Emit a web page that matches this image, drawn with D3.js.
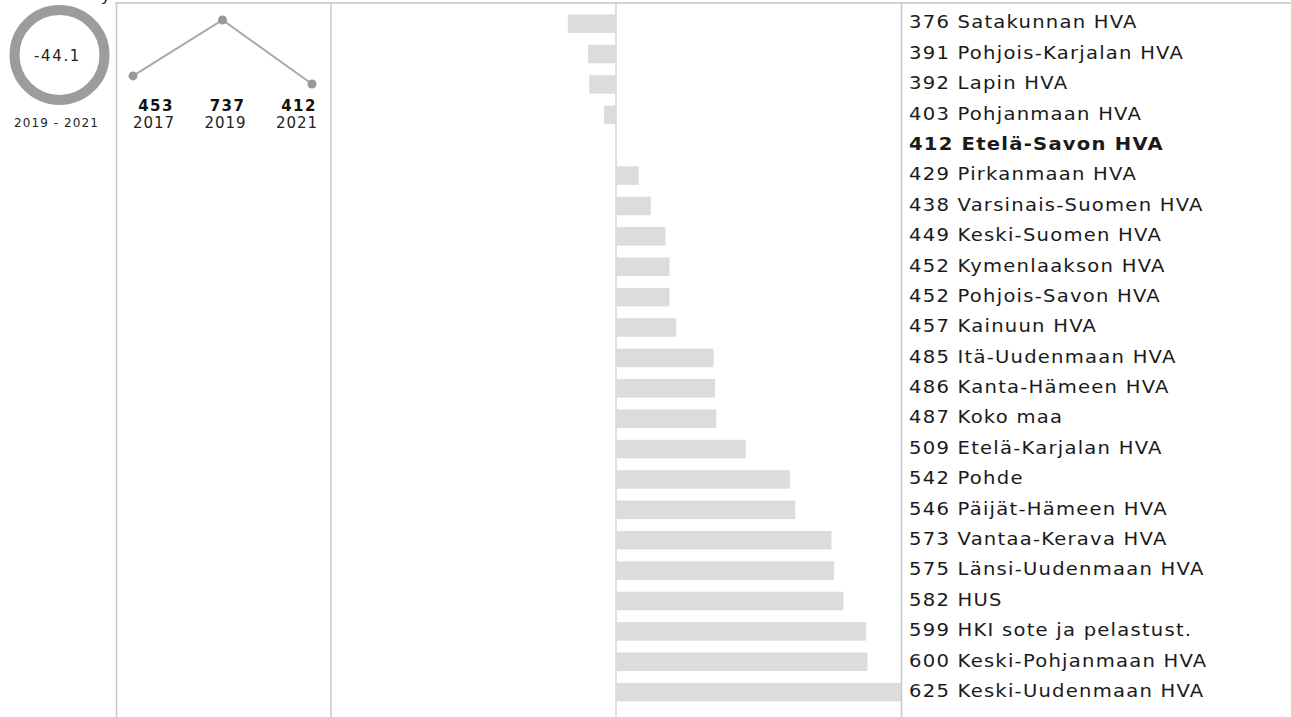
<!DOCTYPE html>
<html><head><meta charset="utf-8">
<script src="https://cdn.jsdelivr.net/npm/d3@7"></script>
<style>body{margin:0;background:#fff;overflow:hidden}svg{display:block}</style>
</head><body>
<script>
const regions = ["Satakunnan HVA","Pohjois-Karjalan HVA","Lapin HVA","Pohjanmaan HVA","Etelä-Savon HVA","Pirkanmaan HVA","Varsinais-Suomen HVA","Keski-Suomen HVA","Kymenlaakson HVA","Pohjois-Savon HVA","Kainuun HVA","Itä-Uudenmaan HVA","Kanta-Hämeen HVA","Koko maa","Etelä-Karjalan HVA","Pohde","Päijät-Hämeen HVA","Vantaa-Kerava HVA","Länsi-Uudenmaan HVA","HUS","HKI sote ja pelastust.","Keski-Pohjanmaan HVA","Keski-Uudenmaan HVA"];
const values = [376,391,392,403,412,429,438,449,452,452,457,485,486,487,509,542,546,573,575,582,599,600,625];
const highlight = "Etelä-Savon HVA";
const years = ["2017","2019","2021"];
const trend = [453,737,412];
const change = "-44.1";
const changeLabel = "2019 - 2021";

const W = 1291, H = 717;
const svg = d3.select("body").append("svg").attr("width", W).attr("height", H);
const font = "DejaVu Sans, sans-serif";

// frame lines
svg.append("line").attr("x1",115).attr("x2",W).attr("y1",3).attr("y2",3).attr("stroke","#c4c4c4").attr("stroke-width",1.5);
[116.5,331,901.5].forEach(x=>svg.append("line").attr("x1",x).attr("x2",x).attr("y1",3).attr("y2",H).attr("stroke","#c8c8c8").attr("stroke-width",1.5));
// clipped title descender
svg.append("text").attr("x",101).attr("y",1).attr("font-family",font).attr("font-size",16).attr("fill","#222").text("y");

// donut
const cx = 59.5, cy = 55;
svg.append("circle").attr("cx",cx).attr("cy",cy).attr("r",45).attr("fill","none").attr("stroke","#9c9c9c").attr("stroke-width",10);
svg.append("text").attr("x",cx-2).attr("y",61).attr("text-anchor","middle").attr("font-family",font).attr("font-size",15).attr("letter-spacing",1.6).attr("fill","#222").text(change);
svg.append("text").attr("x",cx-3).attr("y",127).attr("text-anchor","middle").attr("font-family",font).attr("font-size",12).attr("letter-spacing",1.1).attr("fill","#222").text(changeLabel);

// sparkline
const sx = d3.scalePoint().domain(years).range([133,312]);
const sy = d3.scaleLinear().domain([d3.min(trend), d3.max(trend)]).range([84,20]);
const lx = d3.scalePoint().domain(years).range([153,296]);
svg.append("path").datum(trend).attr("fill","none").attr("stroke","#aaa").attr("stroke-width",2)
  .attr("d", d3.line().x((d,i)=>sx(years[i])).y(d=>sy(d)));
svg.selectAll(".pt").data(trend).join("circle").attr("cx",(d,i)=>sx(years[i])).attr("cy",d=>sy(d)).attr("r",4.5).attr("fill","#999");
svg.selectAll(".tv").data(trend).join("text").attr("x",(d,i)=>lx(years[i])+3).attr("y",111).attr("text-anchor","middle")
  .attr("font-family",font).attr("font-size",15).attr("letter-spacing",1.4).attr("font-weight","bold").attr("fill","#111").text(d=>d);
svg.selectAll(".ty").data(years).join("text").attr("x",d=>lx(d)+1).attr("y",128).attr("text-anchor","middle")
  .attr("font-family",font).attr("font-size",15).attr("letter-spacing",1).attr("fill","#222").text(d=>d);

// bars
const refVal = values[regions.indexOf(highlight)];
const x = d3.scaleLinear().domain([refVal, d3.max(values)]).range([616, 901]);
const y = d3.scaleBand().domain(regions).range([8.3, 8.3 + 30.4*regions.length]).paddingInner(0.39).paddingOuter(0.2);
svg.append("line").attr("x1",616).attr("x2",616).attr("y1",3).attr("y2",H).attr("stroke","#d6d6d6").attr("stroke-width",1.5);
svg.selectAll(".bar").data(values).join("rect")
  .attr("x",(d)=>Math.min(x(d),x(refVal))).attr("width",d=>Math.abs(x(d)-x(refVal)))
  .attr("y",(d,i)=>y(regions[i])).attr("height",y.bandwidth()).attr("fill","#dcdcdc");
svg.selectAll(".lab").data(values).join("text")
  .attr("transform",(d,i)=>`translate(909,${y(regions[i])+y.bandwidth()/2+4.8}) scale(1.12,1)`)
  .attr("font-family",font).attr("font-size",17.5).attr("letter-spacing",1.1)
  .attr("font-weight",(d,i)=>regions[i]===highlight?"bold":"normal")
  .attr("fill","#1a1a1a").text((d,i)=>d+" "+regions[i]);
</script>
</body></html>
